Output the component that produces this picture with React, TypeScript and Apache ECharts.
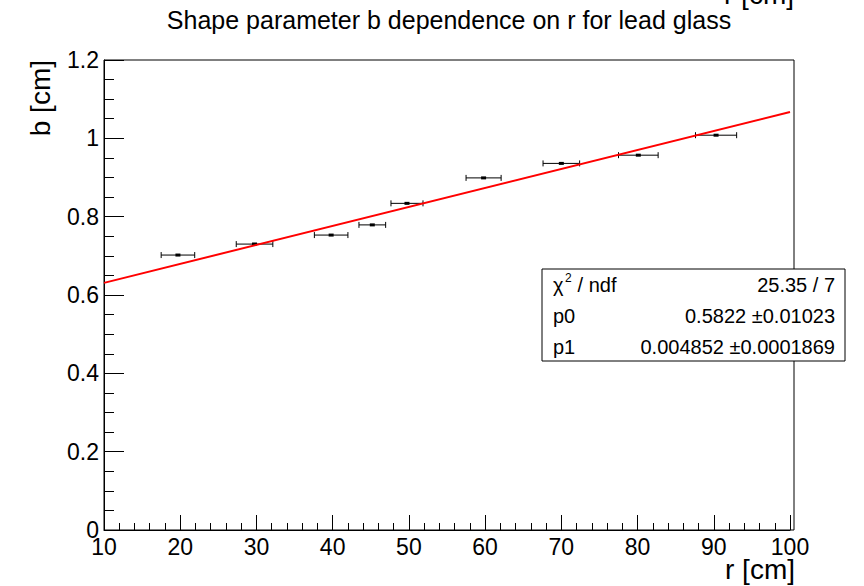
import React, { useEffect, useRef } from "react";
import * as echarts from "echarts";

// Data
const rValues = [19.7, 29.75, 39.8, 45.2, 49.75, 59.8, 70.0, 80.1, 90.3];
const bValues = [0.702, 0.730, 0.753, 0.779, 0.834, 0.899, 0.936, 0.957, 1.008];
const rErrors = [2.2, 2.4, 2.2, 1.75, 2.1, 2.3, 2.4, 2.6, 2.7];

// Fit line endpoints (pol1 fit: p0 + p1 * r)
const fitR = [10, 100];
const fitB = [0.631, 1.067];

const statsLabels = ["p0", "p1"];
const statsValues = ["0.5822 \u00b10.01023", "0.004852 \u00b10.0001869"];
const chi2Text = "25.35 / 7";

const xTickLabels = ["10", "20", "30", "40", "50", "60", "70", "80", "90", "100"];
const yTickLabels = ["0", "0.2", "0.4", "0.6", "0.8", "1", "1.2"];

const FONT = "Liberation Sans, Arial, Helvetica, sans-serif";

export default function App() {
  const ref = useRef<HTMLDivElement>(null);
  useEffect(() => {
    if (!ref.current) return;
    const chart = echarts.init(ref.current, undefined, { renderer: "svg" });
    const points = rValues.map((r, i) => [r, bValues[i], rErrors[i]]);
    const fitData = fitR.map((r, i) => [r, fitB[i]]);

    const option: any = {
      animation: false,
      backgroundColor: "#ffffff",
      textStyle: { fontFamily: FONT },
      grid: { left: 104, right: 74, top: 60, bottom: 56, show: false },
      xAxis: {
        type: "value",
        min: 10,
        max: 100,
        interval: 10,
        splitLine: { show: false },
        axisLine: { show: true, onZero: false, lineStyle: { color: "#000", width: 1 } },
        axisTick: { show: true, inside: true, length: 15, lineStyle: { color: "#000", width: 1 } },
        minorTick: { show: true, splitNumber: 5, length: 7, lineStyle: { color: "#000", width: 1 } },
        axisLabel: {
          color: "#000",
          fontSize: 23,
          fontFamily: FONT,
          margin: 5,
          formatter: (v: number) => {
            const s = String(Math.round(v));
            return xTickLabels.includes(s) ? s : "";
          },
        },
      },
      yAxis: {
        type: "value",
        min: 0,
        max: 1.2,
        interval: 0.2,
        splitLine: { show: false },
        axisLine: { show: true, onZero: false, lineStyle: { color: "#000", width: 1 } },
        axisTick: { show: true, inside: true, length: 20, lineStyle: { color: "#000", width: 1 } },
        minorTick: { show: true, splitNumber: 4, length: 10, lineStyle: { color: "#000", width: 1 } },
        axisLabel: {
          color: "#000",
          fontSize: 23,
          fontFamily: FONT,
          margin: 5,
          formatter: (v: number) => {
            const s = String(Math.round(v * 10) / 10);
            return yTickLabels.includes(s) ? s : "";
          },
        },
      },
      series: [
        {
          type: "custom",
          data: points,
          encode: { x: 0, y: 1 },
          z: 2,
          renderItem: (params: any, api: any) => {
            const x = api.value(0);
            const y = api.value(1);
            const e = api.value(2);
            const p = api.coord([x, y]);
            const l = api.coord([x - e, y]);
            const r = api.coord([x + e, y]);
            const st = { stroke: "#000", lineWidth: 1 };
            return {
              type: "group",
              children: [
                { type: "line", shape: { x1: l[0], y1: p[1], x2: r[0], y2: p[1] }, style: st },
                { type: "line", shape: { x1: l[0], y1: p[1] - 3, x2: l[0], y2: p[1] + 3 }, style: st },
                { type: "line", shape: { x1: r[0], y1: p[1] - 3, x2: r[0], y2: p[1] + 3 }, style: st },
                { type: "rect", shape: { x: p[0] - 2.5, y: p[1] - 1.5, width: 5, height: 3 }, style: { fill: "#000" } },
              ],
            };
          },
        },
        {
          type: "line",
          data: fitData,
          z: 3,
          symbol: "none",
          lineStyle: { color: "#ff0000", width: 2 },
        },
      ],
      graphic: [
        // frame top/right
        {
          type: "rect",
          z: 1,
          shape: { x: 104, y: 60, width: 690, height: 470 },
          style: { fill: "none", stroke: "#000", lineWidth: 1 },
          silent: true,
        },
        // title
        {
          type: "text",
          x: 449,
          y: 20,
          style: {
            text: "Shape parameter b dependence on r for lead glass",
            fontSize: 25,
            fontFamily: FONT,
            fill: "#000",
            align: "center",
            verticalAlign: "middle",
          },
        },
        // cut-off text at top right
        {
          type: "text",
          x: 794,
          y: -6,
          style: {
            text: "r [cm]",
            fontSize: 28,
            fontFamily: FONT,
            fill: "#000",
            align: "right",
            verticalAlign: "middle",
          },
        },
        // y title
        {
          type: "text",
          x: 40,
          y: 60,
          rotation: Math.PI / 2,
          style: {
            text: "b [cm]",
            fontSize: 28,
            fontFamily: FONT,
            fill: "#000",
            align: "right",
            verticalAlign: "middle",
          },
        },
        // x title
        {
          type: "text",
          x: 795,
          y: 569,
          style: {
            text: "r [cm]",
            fontSize: 28,
            fontFamily: FONT,
            fill: "#000",
            align: "right",
            verticalAlign: "middle",
          },
        },
        // stats box
        {
          type: "rect",
          z: 10,
          shape: { x: 542, y: 269, width: 303, height: 92 },
          style: { fill: "#fff", stroke: "#000", lineWidth: 1 },
        },
        {
          type: "text",
          z: 11,
          x: 553,
          y: 285,
          style: { text: "\u03c7", fontSize: 20, fontFamily: FONT, fill: "#000", align: "left", verticalAlign: "middle" },
        },
        {
          type: "text",
          z: 11,
          x: 565,
          y: 278,
          style: { text: "2", fontSize: 12, fontFamily: FONT, fill: "#000", align: "left", verticalAlign: "middle" },
        },
        {
          type: "text",
          z: 11,
          x: 572,
          y: 285,
          style: { text: " / ndf", fontSize: 20, fontFamily: FONT, fill: "#000", align: "left", verticalAlign: "middle" },
        },
        {
          type: "text",
          z: 11,
          x: 835,
          y: 285,
          style: { text: chi2Text, fontSize: 20, fontFamily: FONT, fill: "#000", align: "right", verticalAlign: "middle" },
        },
        ...statsLabels.map((lab, i) => ({
          type: "text",
          z: 11,
          x: 553,
          y: 316 + i * 31,
          style: { text: lab, fontSize: 20, fontFamily: FONT, fill: "#000", align: "left", verticalAlign: "middle" },
        })),
        ...statsValues.map((val, i) => ({
          type: "text",
          z: 11,
          x: 835,
          y: 316 + i * 31,
          style: { text: val, fontSize: 20, fontFamily: FONT, fill: "#000", align: "right", verticalAlign: "middle" },
        })),
      ],
    };
    chart.setOption(option);
    return () => chart.dispose();
  }, []);
  return (
    <div
      ref={ref}
      style={{ position: "fixed", left: 0, top: 0, width: 864, height: 586, background: "#fff" }}
    />
  );
}
